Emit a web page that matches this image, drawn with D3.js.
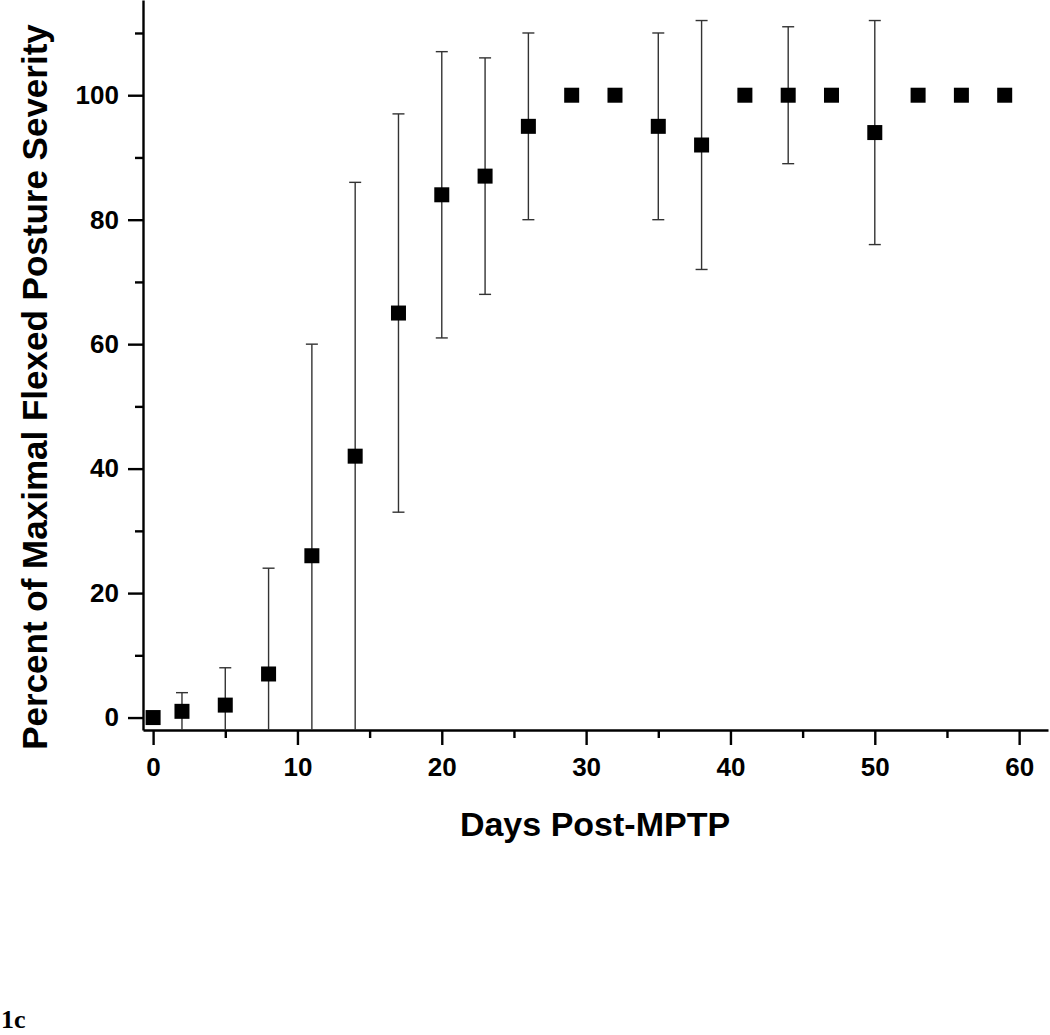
<!DOCTYPE html>
<html>
<head>
<meta charset="utf-8">
<script src="https://cdn.jsdelivr.net/npm/d3@7"></script>
<style>
  html, body { margin: 0; padding: 0; background: #fff; }
  svg { display: block; }
</style>
</head>
<body>
<script>
// ---- Data ----
const days = [0, 2, 5, 8, 11, 14, 17, 20, 23, 26, 29, 32, 35, 38, 41, 44, 47, 50, 53, 56, 59];
const meanSeverity = [0, 1, 2, 7, 26, 42, 65, 84, 87, 95, 100, 100, 95, 92, 100, 100, 100, 94, 100, 100, 100];
const sdSeverity = [0, 3, 6, 17, 34, 44, 32, 23, 19, 15, 0, 0, 15, 20, 0, 11, 0, 18, 0, 0, 0];
const xMajorTicks = [0, 10, 20, 30, 40, 50, 60];
const xMinorTicks = [5, 15, 25, 35, 45, 55];
const yMajorTicks = [0, 20, 40, 60, 80, 100];
const yMinorTicks = [10, 30, 50, 70, 90, 110];
const xTitle = "Days Post-MPTP";
const yTitle = "Percent of Maximal Flexed Posture Severity";
const panelLabel = "1c";

// ---- Layout ----
const W = 1050, H = 1035;
const svg = d3.select("body").append("svg").attr("width", W).attr("height", H);

const x = d3.scaleLinear().domain([-0.7, 62]).range([143, 1048]);
const y = d3.scaleLinear().domain([-2, 115.3]).range([730, 0]);

const tickFont = "'Liberation Sans', Arial, Helvetica, sans-serif";

// X axis
const gx = svg.append("g").attr("transform", `translate(0,${y.range()[0]})`);
gx.call(d3.axisBottom(x).tickValues(xMajorTicks).tickSize(15).tickSizeOuter(0).tickPadding(12.5).tickFormat(d3.format("d")));
const gxm = svg.append("g").attr("transform", `translate(0,${y.range()[0]})`);
gxm.call(d3.axisBottom(x).tickValues(xMinorTicks).tickSize(8).tickSizeOuter(0).tickFormat(""));
gxm.select(".domain").remove();

// Y axis
const gy = svg.append("g").attr("transform", `translate(${x.range()[0]},0)`);
gy.call(d3.axisLeft(y).tickValues(yMajorTicks).tickSize(15).tickSizeOuter(0).tickPadding(9).tickFormat(d3.format("d")));
const gym = svg.append("g").attr("transform", `translate(${x.range()[0]},0)`);
gym.call(d3.axisLeft(y).tickValues(yMinorTicks).tickSize(8).tickSizeOuter(0).tickFormat(""));
gym.select(".domain").remove();

svg.selectAll(".domain").attr("stroke", "#000").attr("stroke-width", 2.4);
svg.selectAll(".tick line").attr("stroke", "#000").attr("stroke-width", 2.4);
svg.selectAll(".tick text")
  .attr("fill", "#000")
  .style("font-family", tickFont)
  .style("font-weight", "bold")
  .style("font-size", "26px");

// Error bars
const data = days.map((d, i) => ({ day: d, mean: meanSeverity[i], sd: sdSeverity[i] }));
const ymin = y.domain()[0];
const eb = svg.append("g").attr("stroke", "#333").attr("stroke-width", 1.4);
const withErr = data.filter(d => d.sd > 0);
eb.selectAll("line.v").data(withErr).enter().append("line")
  .attr("class", "v")
  .attr("x1", d => x(d.day)).attr("x2", d => x(d.day))
  .attr("y1", d => y(d.mean + d.sd))
  .attr("y2", d => y(Math.max(d.mean - d.sd, ymin)));
eb.selectAll("line.cu").data(withErr).enter().append("line")
  .attr("class", "cu")
  .attr("x1", d => x(d.day) - 6).attr("x2", d => x(d.day) + 6)
  .attr("y1", d => y(d.mean + d.sd)).attr("y2", d => y(d.mean + d.sd));
eb.selectAll("line.cl").data(withErr.filter(d => d.mean - d.sd > ymin)).enter().append("line")
  .attr("class", "cl")
  .attr("x1", d => x(d.day) - 6).attr("x2", d => x(d.day) + 6)
  .attr("y1", d => y(d.mean - d.sd)).attr("y2", d => y(d.mean - d.sd));

// Markers
const S = 15;
svg.append("g").selectAll("rect").data(data).enter().append("rect")
  .attr("x", d => x(d.day) - S / 2)
  .attr("y", d => y(d.mean) - S / 2)
  .attr("width", S).attr("height", S)
  .attr("fill", "#000");

// Axis titles
svg.append("text")
  .attr("x", 595).attr("y", 836)
  .attr("text-anchor", "middle")
  .style("font-family", tickFont).style("font-weight", "bold").style("font-size", "34px")
  .text(xTitle);

svg.append("text")
  .attr("transform", "translate(47,387) rotate(-90)")
  .attr("text-anchor", "middle")
  .style("font-family", tickFont).style("font-weight", "bold").style("font-size", "35px")
  .text(yTitle);

// Panel label
svg.append("text")
  .attr("x", 1).attr("y", 1028)
  .style("font-family", "'Liberation Serif', 'Times New Roman', serif").style("font-weight", "bold").style("font-size", "26px")
  .text(panelLabel);
</script>
</body>
</html>
